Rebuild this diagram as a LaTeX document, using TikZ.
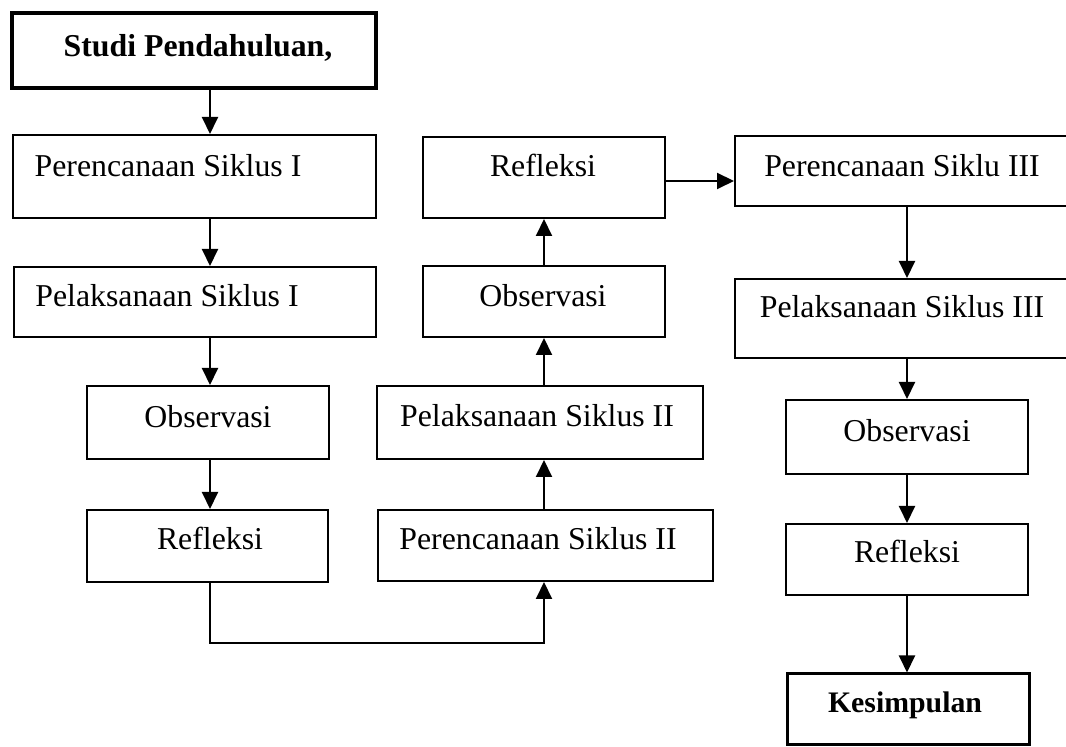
\documentclass[tikz,border=0pt]{standalone}
\usepackage{fontspec}
\setmainfont{Liberation Serif}
\usetikzlibrary{positioning}
\usetikzlibrary{arrows.meta}
\usetikzlibrary{fit}

\begin{document}
\begin{tikzpicture}[x=0.5pt,y=-0.5pt,
    box/.style={draw, rectangle, line width=1pt, inner sep=0pt},
    thickbox/.style={box, line width=2pt},
    arr/.style={-{Triangle[length=8.5pt,width=8pt]}, line width=1pt},
    lbl/.style={anchor=base, inner sep=0pt, font=\fontsize{15.9}{19}\selectfont}]
    \useasboundingbox (0,0) rectangle (1066,747);
    \clip (0,0) rectangle (1066,747);

    % Define the columns and rows of the arrows
    \coordinate (cl) at (210,0);
    \coordinate (cm) at (544,0);
    \coordinate (cr) at (907,0);
    \coordinate (rowa) at (0,181);
    \coordinate (rowb) at (0,643);

    % Draw the boxes
    \node[thickbox, fit={(12,13) (376,88)}] (studi) {};
    \foreach \nm/\xa/\ya/\xb/\yb in {perI/13/135/376/218, pelI/14/267/376/337,
        obsL/87/386/329/459, refL/87/510/328/582,
        refM/423/137/665/218, obsM/423/266/665/337,
        pelII/377/386/703/459, perII/378/510/713/581,
        perIII/735/136/1090/206, pelIII/735/279/1090/358,
        obsR/786/400/1028/474, refR/786/524/1028/595}
    \node[box, fit={(\xa,\ya) (\xb,\yb)}] (\nm) {};
    \node[box, line width=1.5pt, fit={(787,674) (1029,745)}] (kes) {};

    % Write the texts
    \foreach \nm/\x/\y/\txt in {studi/198/57/{\textbf{Studi Pendahuluan,}},
        perI/168/177/{Perencanaan Siklus I}, pelI/167/307/{Pelaksanaan Siklus I},
        obsL/208/428/Observasi, refL/210/550/Refleksi,
        refM/543/177/Refleksi, obsM/543/307/Observasi,
        pelII/537/427/{Pelaksanaan Siklus II}, perII/538/550/{Perencanaan Siklus II},
        perIII/902/177/{Perencanaan Siklu III}, pelIII/902/318/{Pelaksanaan Siklus III},
        obsR/907/442/Observasi, refR/907/563/Refleksi}
    \node[lbl] (\nm-t) at (\x,\y) {\txt};
    \node[lbl, font=\fontsize{14.9}{18}\selectfont\bfseries] (kes-t) at (905,713) {Kesimpulan};

    % Draw the arrows
    \draw[arr] (studi.south -| cl) -- (perI.north -| cl);
    \draw[arr] (perI.south -| cl) -- (pelI.north -| cl);
    \draw[arr] (pelI.south -| cl) -- (obsL.north -| cl);
    \draw[arr] (obsL.south -| cl) -- (refL.north -| cl);
    \draw[arr] (refL.south -| cl) |- (rowb -| cm) -- (perII.south -| cm);
    \draw[arr] (perII.north -| cm) -- (pelII.south -| cm);
    \draw[arr] (pelII.north -| cm) -- (obsM.south -| cm);
    \draw[arr] (obsM.north -| cm) -- (refM.south -| cm);
    \draw[arr] (refM.east |- rowa) -- (perIII.west |- rowa);
    \draw[arr] (perIII.south -| cr) -- (pelIII.north -| cr);
    \draw[arr] (pelIII.south -| cr) -- (obsR.north -| cr);
    \draw[arr] (obsR.south -| cr) -- (refR.north -| cr);
    \draw[arr] (refR.south -| cr) -- (kes.north -| cr);
\end{tikzpicture}
\end{document}
